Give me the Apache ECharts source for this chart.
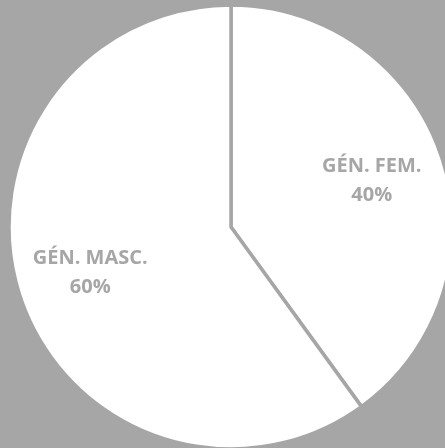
<!DOCTYPE html>
<html><head><meta charset="utf-8">
<script src="https://cdn.jsdelivr.net/npm/echarts@6/dist/echarts.min.js"></script>
<style>html,body{margin:0;padding:0;background:#a6a6a6}#c{width:445px;height:448px}</style>
</head><body><div id="c"></div>
<script>
const categories = ['GÉN. FEM.', 'GÉN. MASC.'];
const values = [40, 60];
const percents = ['40%', '60%'];

const data = categories.map((c, i) => ({ name: c, value: values[i] }));
const chart = echarts.init(document.getElementById('c'));
chart.setOption({
  backgroundColor: '#a6a6a6',
  animation: false,
  series: [
    {
      type: 'pie',
      center: [231, 227],
      radius: [0, 222],
      startAngle: 90,
      clockwise: true,
      silent: true,
      itemStyle: { color: '#ffffff', borderColor: '#a6a6a6', borderWidth: 3.5 },
      label: { show: false },
      labelLine: { show: false },
      data: data
    },
    {
      type: 'pie',
      center: [231, 227],
      radius: [0, 290],
      startAngle: 90,
      clockwise: true,
      silent: true,
      z: 5,
      itemStyle: { color: 'rgba(0,0,0,0)' },
      label: {
        show: true,
        position: 'inside',
        formatter: p => p.name + '\n' + percents[p.dataIndex],
        color: '#a6a6a6',
        fontFamily: 'Open Sans',
        fontWeight: 'bold',
        fontSize: 20,
        lineHeight: 29,
        align: 'center'
      },
      labelLine: { show: false },
      data: data
    }
  ]
});
</script></body></html>
